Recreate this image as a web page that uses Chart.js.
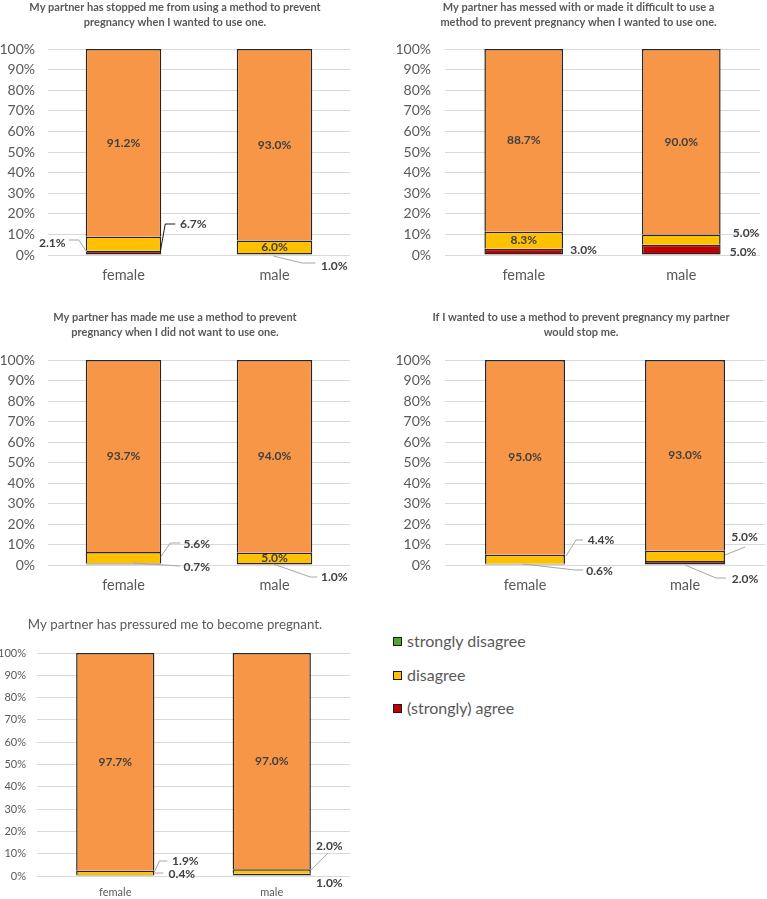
<!DOCTYPE html>
<html>
<head>
<meta charset="utf-8">
<script src="https://cdn.jsdelivr.net/npm/chart.js@4.4.1/dist/chart.umd.min.js"></script>
<style>
  html, body { margin: 0; padding: 0; background: #fff; width: 767px; height: 899px; overflow: hidden; }
  canvas { position: absolute; }
  .leg { position: absolute; left: 393px; height: 20px; line-height: 20px; white-space: nowrap;
         font-family: Lato, "Open Sans", sans-serif; font-size: 16px; color: #595959; display: flex; align-items: center; }
  .leg span.sw { display: inline-block; width: 7px; height: 7px; border: 1px solid #1a1a1a; margin-right: 5px; }
</style>
</head>
<body>
<script>
// --- data ---
const categories = ['female', 'male'];
const seriesNames = ['(strongly) agree', 'disagree', 'strongly disagree'];
const legendNames = ['strongly disagree', 'disagree', '(strongly) agree'];
const yTicks = [0, 10, 20, 30, 40, 50, 60, 70, 80, 90, 100];

const titles = [
  ['My partner has stopped me from using a method to prevent', 'pregnancy when I wanted to use one.'],
  ['My partner has messed with or made it difficult to use a', 'method to prevent pregnancy when I wanted to use one.'],
  ['My partner has made me use a method to prevent', 'pregnancy when I did not want to use one.'],
  ['If I wanted to use a method to prevent pregnancy my partner', 'would stop me.'],
  ['My partner has pressured me to become pregnant.']
];

// one entry per panel: [female, male]
const agree            = [[2.1, 1.0], [3.0, 5.0], [0.7, 1.0], [0.6, 2.0], [0.4, 1.0]];
const disagree         = [[6.7, 6.0], [8.3, 5.0], [5.6, 5.0], [4.4, 5.0], [1.9, 2.0]];
const stronglyDisagree = [[91.2, 93.0], [88.7, 90.0], [93.7, 94.0], [95.0, 93.0], [97.7, 97.0]];

// --- styling ---
const colors = ['#C00000', '#FFC000', '#F79646'];
const legendColors = ['#4EA72E', '#FFC000', '#C00000'];
const FONT = 'Lato, "Open Sans", sans-serif';
const GREY = '#A6A6A6';

// panel boxes: left, top, width, height and axis sizes
const layouts = [
  { box: [0, 0, 356, 300],   axisW: 48, tickPad: 13, padRight: 6, titleGap: 19, xAxisH: 45, xPad: 12, tick: 14, cat: 14.5, title: { size: 11, weight: 'bold' }, lineH: 15 },
  { box: [397, 0, 370, 300], axisW: 48, tickPad: 14, padRight: 7, titleGap: 19, xAxisH: 45, xPad: 12, tick: 14, cat: 14.5, title: { size: 11, weight: 'bold' }, lineH: 15 },
  { box: [0, 310, 358, 295], axisW: 48, tickPad: 13, padRight: 8, titleGap: 20, xAxisH: 40, xPad: 12, tick: 14, cat: 14.5, title: { size: 11, weight: 'bold' }, lineH: 15 },
  { box: [397, 310, 376, 295], axisW: 48, tickPad: 14, padRight: 8, titleGap: 20, xAxisH: 40, xPad: 12, tick: 14, cat: 14.5, title: { size: 11, weight: 'bold' }, lineH: 15 },
  { box: [0, 617, 358, 282], axisW: 37, tickPad: 11, padRight: 8, titleGap: 20, xAxisH: 23, xPad: 10, tick: 11, cat: 11, title: { size: 13.3, weight: 'normal' }, lineH: 16 }
];

// label placement: ds 0 = agree, 1 = disagree, 2 = strongly disagree; i = category
// outside labels: offset from bar edge (R/L) at the 0% line, leader points likewise
const placements = [
  [
    { ds: 2, i: 0, inside: true }, { ds: 2, i: 1, inside: true },
    { ds: 0, i: 0, side: 'L', dx: -33.5, dy: -12, lead: [[-17, -15], [-7, -15], [1, -3]] },
    { ds: 1, i: 0, dx: 32, dy: -31, lead: [[-1, -3], [4, -31], [14, -31]], leadColor: '#1a1a1a' },
    { ds: 1, i: 1, inside: true },
    { ds: 0, i: 1, dx: 22, dy: 11, lead: [[-39, 1], [-10, 8], [3, 8]] }
  ],
  [
    { ds: 2, i: 0, inside: true }, { ds: 2, i: 1, inside: true },
    { ds: 1, i: 0, inside: true },
    { ds: 0, i: 0, dx: 20.5, dy: -5 },
    { ds: 1, i: 1, dx: 25.5, dy: -22 },
    { ds: 0, i: 1, dx: 22.5, dy: -3 }
  ],
  [
    { ds: 2, i: 0, inside: true }, { ds: 2, i: 1, inside: true },
    { ds: 1, i: 0, dx: 35.5, dy: -21, lead: [[0, -9], [9, -22], [19, -22]] },
    { ds: 0, i: 0, dx: 35.5, dy: 2, lead: [[-28, -2], [19, 1]] },
    { ds: 1, i: 1, inside: true },
    { ds: 0, i: 1, dx: 22, dy: 12, lead: [[-39, -1], [-2, 12], [5, 12]] }
  ],
  [
    { ds: 2, i: 0, inside: true }, { ds: 2, i: 1, inside: true },
    { ds: 1, i: 0, dx: 36, dy: -25, lead: [[1, -9], [11, -25], [18, -25]] },
    { ds: 0, i: 0, dx: 34.5, dy: 6, lead: [[-42, -1], [10, 5], [18, 5]] },
    { ds: 1, i: 1, dx: 19.5, dy: -28, lead: [[0, -10], [20, -18]] },
    { ds: 0, i: 1, dx: 20, dy: 14, lead: [[-40, 0], [-9, 13], [1, 13]] }
  ],
  [
    { ds: 2, i: 0, inside: true }, { ds: 2, i: 1, inside: true },
    { ds: 1, i: 0, dx: 31, dy: -15, lead: [[0, -4], [5, -15], [13, -15]] },
    { ds: 0, i: 0, dx: 27.5, dy: -2, lead: [[0, -3], [9, -3]] },
    { ds: 1, i: 1, dx: 18.5, dy: -30, lead: [[0, -6], [17, -23]] },
    { ds: 0, i: 1, dx: 18.5, dy: 7 }
  ]
];

const segLabels = {
  id: 'segLabels',
  afterDatasetsDraw(chart, args, opts) {
    const ctx = chart.ctx;
    const zero = chart.scales.y.getPixelForValue(0);
    opts.items.forEach(it => {
      const bar = chart.getDatasetMeta(it.ds).data[it.i];
      const p = bar.getProps(['x', 'y', 'base', 'width'], true);
      const text = chart.data.datasets[it.ds].data[it.i].toFixed(1) + '%';
      ctx.save();
      let x, y;
      if (it.inside) {
        x = p.x;
        y = (p.y + p.base) / 2;
      } else {
        const ax = it.side === 'L' ? p.x - p.width / 2 : p.x + p.width / 2;
        x = ax + it.dx;
        y = zero + it.dy;
        if (it.lead) {
          ctx.strokeStyle = it.leadColor || GREY;
          ctx.lineWidth = 1;
          ctx.beginPath();
          it.lead.forEach((pt, k) => {
            const px = ax + pt[0], py = zero + pt[1];
            if (k === 0) ctx.moveTo(px, py); else ctx.lineTo(px, py);
          });
          ctx.stroke();
        }
      }
      ctx.font = 'bold 12px ' + FONT;
      ctx.fillStyle = '#404040';
      ctx.textAlign = 'center';
      ctx.textBaseline = 'middle';
      ctx.fillText(text, x, y);
      ctx.restore();
    });
  }
};

function makePanel(n) {
  const L = layouts[n];
  const cv = document.createElement('canvas');
  cv.width = L.box[2];
  cv.height = L.box[3];
  cv.style.left = L.box[0] + 'px';
  cv.style.top = L.box[1] + 'px';
  document.body.appendChild(cv);

  const series = [agree[n], disagree[n], stronglyDisagree[n]];
  new Chart(cv, {
    type: 'bar',
    data: {
      labels: categories,
      datasets: series.map((d, k) => ({
        label: seriesNames[k],
        data: d,
        backgroundColor: colors[k],
        borderColor: '#262626',
        // one shared line between stacked segments
        borderWidth: { top: 1.5, left: 1.5, right: 1.5, bottom: k === 0 ? 1.5 : 0 },
        borderSkipped: false,
        barPercentage: 0.5,
        categoryPercentage: 1
      }))
    },
    options: {
      responsive: false,
      animation: false,
      devicePixelRatio: 1,
      layout: { padding: { left: 0, right: L.padRight, top: 0, bottom: 0 } },
      scales: {
        x: {
          stacked: true,
          grid: { display: false, drawTicks: false },
          border: { display: false },
          ticks: { color: '#595959', font: { family: FONT, size: L.cat }, padding: L.xPad },
          afterFit: s => { s.height = L.xAxisH; }
        },
        y: {
          stacked: true,
          min: 0, max: 100,
          afterBuildTicks: s => { s.ticks = yTicks.map(v => ({ value: v })); },
          grid: { color: '#D9D9D9', lineWidth: 1, drawTicks: false },
          border: { display: false },
          ticks: { color: '#595959', font: { family: FONT, size: L.tick }, padding: L.tickPad, callback: v => v + '%' },
          afterFit: s => { s.width = L.axisW; }
        }
      },
      plugins: {
        legend: { display: false },
        tooltip: { enabled: false },
        title: {
          display: true,
          text: titles[n],
          color: '#595959',
          font: { family: FONT, size: L.title.size, weight: L.title.weight, lineHeight: L.lineH / L.title.size },
          padding: { top: 0, bottom: L.titleGap }
        },
        segLabels: { items: placements[n] }
      }
    },
    plugins: [segLabels]
  });
}

for (let n = 0; n < titles.length; n++) makePanel(n);

// legend
const legendRows = [641, 675, 708];
legendNames.forEach((name, k) => {
  const row = document.createElement('div');
  row.className = 'leg';
  row.style.top = (legendRows[k] - 10) + 'px';
  const sw = document.createElement('span');
  sw.className = 'sw';
  sw.style.background = legendColors[k];
  row.appendChild(sw);
  row.appendChild(document.createTextNode(name));
  document.body.appendChild(row);
});
</script>
</body>
</html>
